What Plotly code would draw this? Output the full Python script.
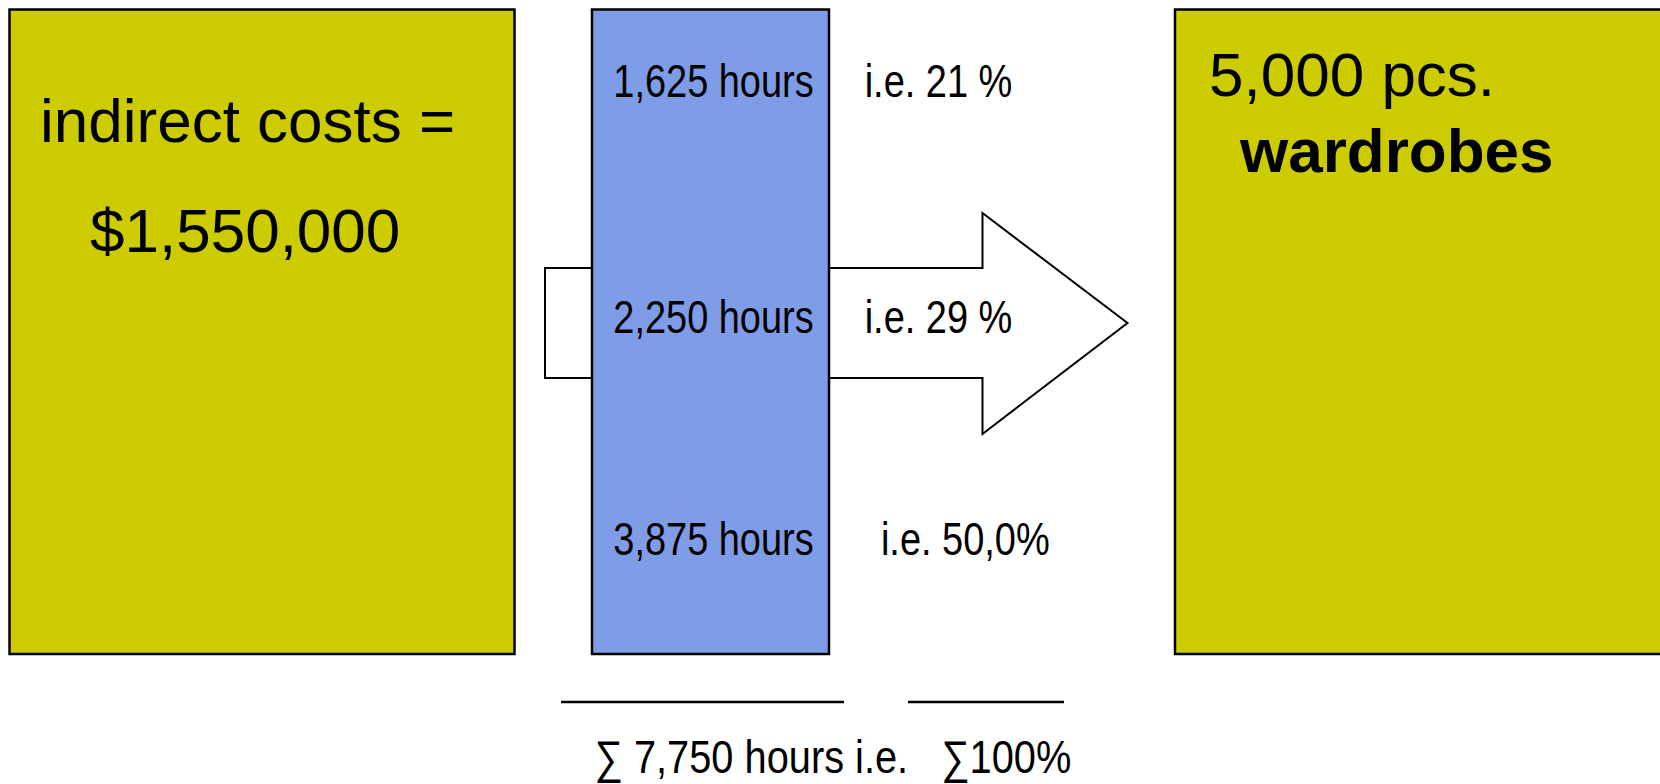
import json
import plotly.graph_objects as go

# ---- data ----
indirect_costs = 1550000
pieces = 5000
product = "wardrobes"
hours = [1625, 2250, 3875]
pct_labels = ["i.e. 21 %", "i.e. 29 %", "i.e. 50,0%"]
total_hours = 7750
total_pct_label = "\u2211100%"

# ---- colours / fonts ----
OLIVE = "#CCCC00"
BLUE = "#7F9CE6"
REG = "Liberation Sans, Arial, sans-serif"
NARROW_SCALE = 0.825  # emulate Arial Narrow
SUM_SCALE = 0.865

W, H = 1660, 784
fig = go.Figure()

# geometry (layout)
left_box = dict(x0=9.5, x1=514.5, y0=9.5, y1=654)
blue_box = dict(x0=592, x1=829, y0=9.5, y1=654)
right_box = dict(x0=1175, x1=1700, y0=9.5, y1=654)

arrow_path = ("M 545 268 L 982.5 268 L 982.5 213 L 1127.5 323 "
              "L 982.5 434 L 982.5 378 L 545 378 Z")

shapes = [
    dict(type="rect", xref="x", yref="y", **left_box,
         fillcolor=OLIVE, line=dict(color="black", width=2.5)),
    dict(type="rect", xref="x", yref="y", **right_box,
         fillcolor=OLIVE, line=dict(color="black", width=2.5)),
    dict(type="path", xref="x", yref="y", path=arrow_path,
         fillcolor="white", line=dict(color="black", width=2)),
    dict(type="rect", xref="x", yref="y", **blue_box,
         fillcolor=BLUE, line=dict(color="black", width=2.5)),
    dict(type="line", xref="x", yref="y", x0=561, x1=844, y0=702, y1=702,
         line=dict(color="black", width=2.5)),
    dict(type="line", xref="x", yref="y", x0=908, x1=1064, y0=702, y1=702,
         line=dict(color="black", width=2.5)),
]

ann = []
squeeze = []  # (annotation index, horizontal scale)
def add(x, y, text, size, xanchor="center", bold=False, scale=None):
    if bold:
        text = "<b>" + text + "</b>"
    if scale is not None:
        squeeze.append([len(ann), scale])
    ann.append(dict(x=x, y=y, xref="x", yref="y", text=text, showarrow=False,
                    xanchor=xanchor, yanchor="middle",
                    font=dict(family=REG, size=size, color="black")))

add(247, 120, "indirect costs =", 62)
add(245, 230, f"${indirect_costs:,}", 62)
add(1207, 74, f"{pieces:,} pcs.", 62, xanchor="left")
add(1237, 150, product, 62, xanchor="left", bold=True)

hour_y = [81, 317, 539]
pct_cx = [938, 938, 965]
for h, p, y, cx in zip(hours, pct_labels, hour_y, pct_cx):
    add(713, y, f"{h:,} hours", 46, scale=NARROW_SCALE)
    add(cx, y, p, 46, scale=NARROW_SCALE)

add(751.5, 757, f"\u2211 {total_hours:,} hours i.e.", 46, scale=SUM_SCALE)
add(1005.5, 757, total_pct_label, 46, scale=SUM_SCALE)

fig.update_layout(
    width=W, height=H, margin=dict(l=0, r=0, t=0, b=0),
    paper_bgcolor="white", plot_bgcolor="white",
    xaxis=dict(range=[0, W], visible=False, fixedrange=True),
    yaxis=dict(range=[H, 0], visible=False, fixedrange=True),
    shapes=shapes, annotations=ann, showlegend=False,
)

post = """
var gd = document.getElementById('{plot_id}');
var specs = %s;
specs.forEach(function(sp){
  var t = gd.querySelector('g.annotation[data-index="' + sp[0] + '"] text.annotation-text');
  if (!t) return;
  var bb = t.getBBox();
  var cx = bb.x + bb.width / 2;
  t.setAttribute('transform', 'translate(' + cx + ',0) scale(' + sp[1] + ',1) translate(' + (-cx) + ',0)');
});
""" % json.dumps(squeeze)

fig.write_html("out.html", post_script=post, config={"displayModeBar": False})
